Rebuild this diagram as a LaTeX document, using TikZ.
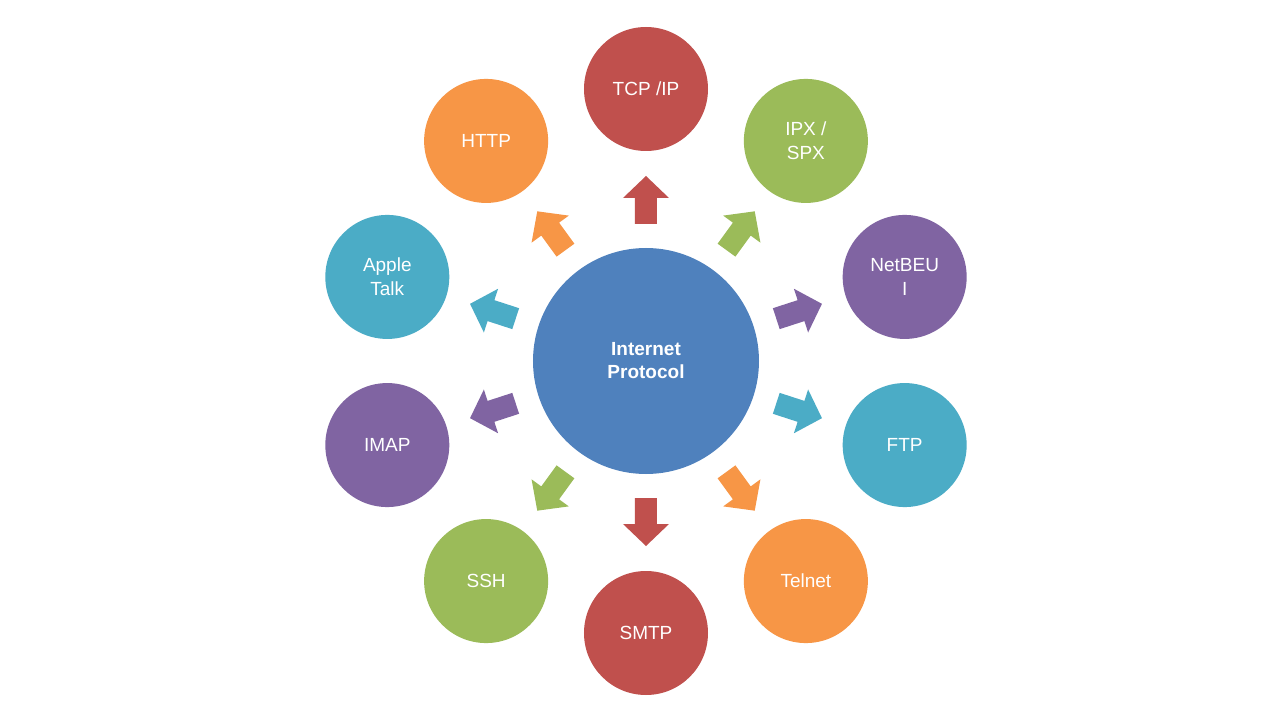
\documentclass[tikz,border=0pt]{standalone}
\usepackage{fontspec}
\setmainfont{Liberation Sans}
\definecolor{cred}{HTML}{C0504D}
\definecolor{cgreen}{HTML}{9BBB59}
\definecolor{cpurple}{HTML}{8064A2}
\definecolor{cteal}{HTML}{4BACC6}
\definecolor{corange}{HTML}{F79646}
\definecolor{cblue}{HTML}{4F81BD}
\begin{document}
\begin{tikzpicture}[x=1pt,y=1pt,
  outer/.style={circle,minimum size=124pt,inner sep=0pt,text=white,font=\fontsize{19}{24}\selectfont,align=center},
  center/.style={circle,minimum size=226pt,fill=cblue,text=white,font=\bfseries\fontsize{19}{23}\selectfont,align=center}]
\useasboundingbox[fill=white] (-646,-359) rectangle (634,361);
\node[center] (c) at (0,0) {Internet\\Protocol};
\foreach \a/\col/\txt/\nm in {90/cred/{TCP /IP}/tcp, 54/cgreen/{IPX /\\SPX}/ipx, 18/cpurple/{NetBEU\\I}/netbeui, -18/cteal/FTP/ftp, -54/corange/Telnet/telnet, -90/cred/SMTP/smtp, -126/cgreen/SSH/ssh, -162/cpurple/IMAP/imap, 162/cteal/{Apple\\Talk}/apple, 126/corange/HTTP/http}{
  \node[outer,fill=\col] (\nm) at (\a:272) {\txt};
  \fill[\col,rotate=\a] (137,-11) -- (163,-11) -- (163,-23) -- (185,0) -- (163,23) -- (163,11) -- (137,11) -- cycle;
}
\end{tikzpicture}
\end{document}
